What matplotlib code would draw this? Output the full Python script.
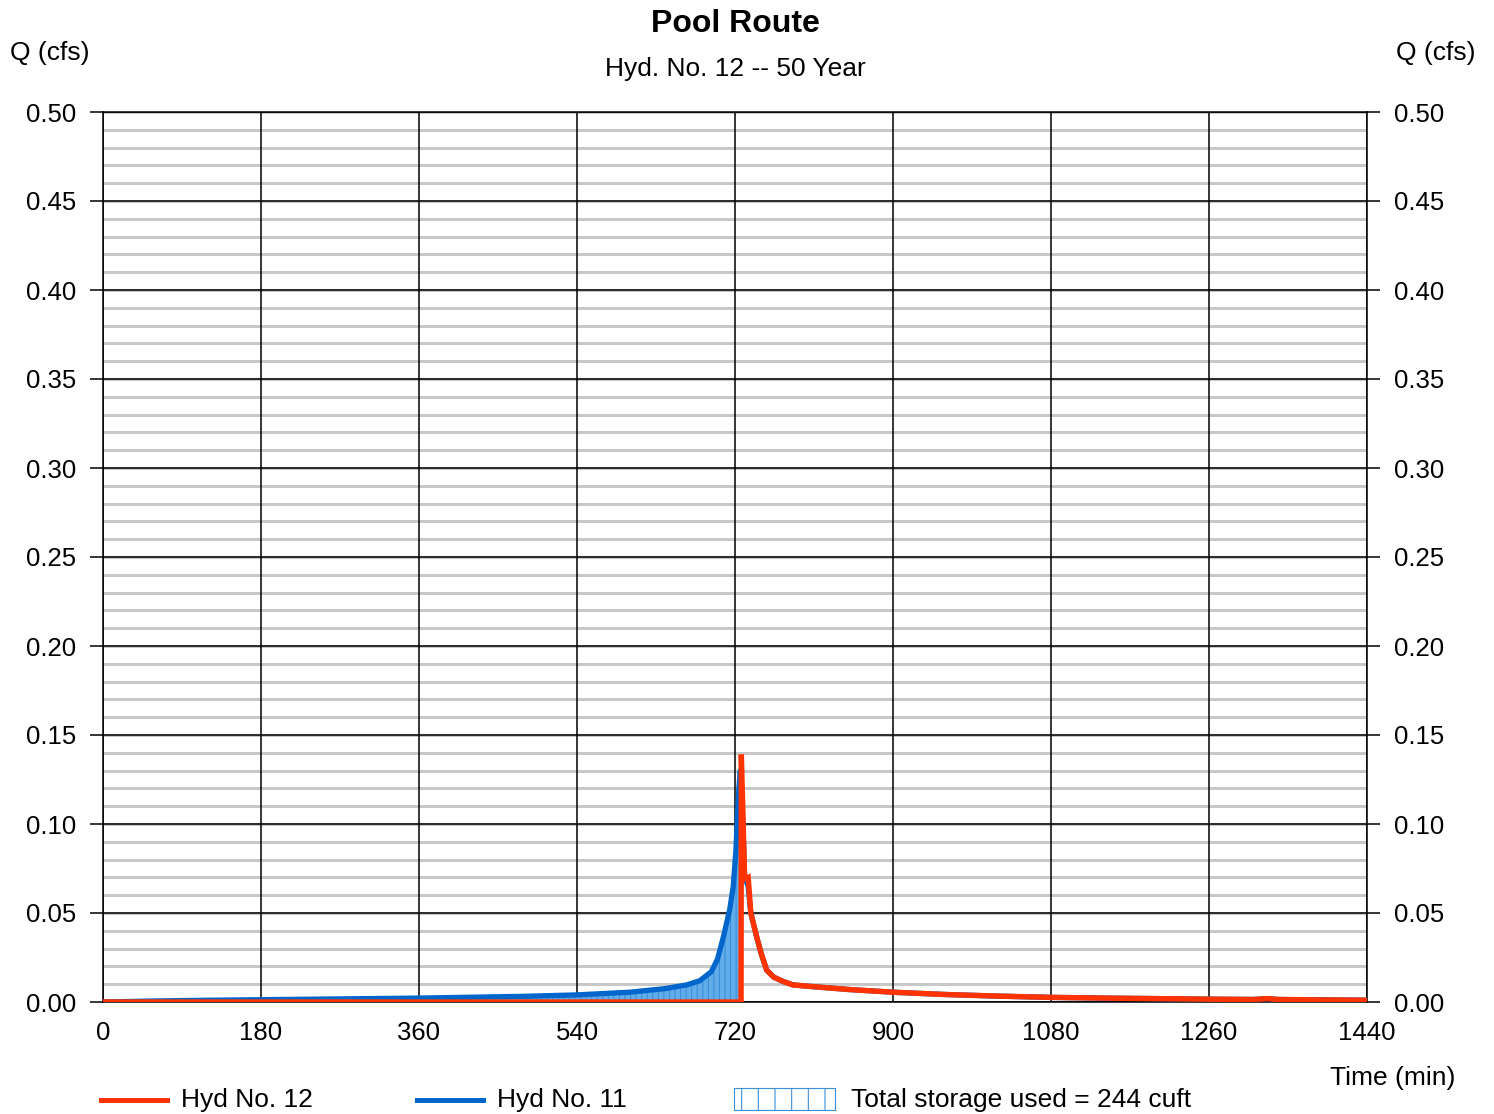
import numpy as np
import matplotlib.pyplot as plt
from matplotlib.lines import Line2D
from matplotlib.patches import Rectangle

plt.rcParams['font.family'] = ['Liberation Sans', 'DejaVu Sans']
plt.rcParams['hatch.linewidth'] = 0.8

# Hyd No. 11 (inflow)
t_in = [0, 60, 120, 180, 240, 300, 360, 420, 480, 540, 600, 640, 665, 680, 693,
        700, 707, 714, 718, 721, 724, 726, 728, 731, 735, 738, 745, 750, 756, 764,
        775, 786, 800, 817, 850, 900, 960, 1020, 1080, 1140, 1200, 1260, 1310,
        1326, 1340, 1380, 1440]
q_in = [0.0, 0.0006, 0.0010, 0.0013, 0.0016, 0.0019, 0.0022, 0.0027, 0.0032,
        0.0040, 0.0055, 0.0075, 0.0096, 0.0120, 0.0170, 0.0240, 0.0370, 0.0520,
        0.0650, 0.0850, 0.1170, 0.1300, 0.1150, 0.0700, 0.0650, 0.0500, 0.0360,
        0.0270, 0.0180, 0.0140, 0.0115, 0.0096, 0.0090, 0.0083, 0.0070, 0.0055,
        0.0042, 0.0033, 0.0026, 0.0022, 0.0019, 0.0016, 0.0014, 0.0019, 0.0014,
        0.0012, 0.0010]

# Hyd No. 12 (outflow)
t_out = [0, 726.9, 727.2, 731, 735, 738, 745, 750, 756, 764, 775, 786, 800, 817,
         850, 900, 960, 1020, 1080, 1140, 1200, 1260, 1310, 1326, 1340, 1380, 1440]
q_out = [0.0, 0.0, 0.1390, 0.0690, 0.0700, 0.0500, 0.0360, 0.0270, 0.0180,
         0.0140, 0.0115, 0.0096, 0.0090, 0.0083, 0.0070, 0.0055, 0.0042, 0.0033,
         0.0026, 0.0022, 0.0019, 0.0016, 0.0014, 0.0019, 0.0014, 0.0012, 0.0010]

storage_end = 727.0
x_ticks = [0, 180, 360, 540, 720, 900, 1080, 1260, 1440]
y_ticks = [0.00, 0.05, 0.10, 0.15, 0.20, 0.25, 0.30, 0.35, 0.40, 0.45, 0.50]
y_minor = np.arange(0, 0.5001, 0.01)

W, H = 1494, 1114
fig = plt.figure(figsize=(W / 100, H / 100), dpi=100)
ax = fig.add_axes([103 / W, 112 / H, 1264 / W, 890 / H])

red = '#ff3300'
blue = '#0066cc'

# grid: light minor lines first, black major lines on top
for y in y_minor:
    ax.axhline(y, color='#c8c8c8', lw=2.2, zorder=0.3)
for y in y_ticks:
    ax.axhline(y, color='black', lw=1.1, zorder=0.6)
for x in x_ticks:
    ax.axvline(x, color='black', lw=1.1, zorder=0.6)

# storage area under inflow before outflow starts
t_in_a = np.array(t_in, dtype=float)
q_in_a = np.array(q_in)
tf = np.append(t_in_a[t_in_a < storage_end], storage_end)
qf = np.append(q_in_a[t_in_a < storage_end], np.interp(storage_end, t_in_a, q_in_a))
ax.fill_between(tf, 0, qf, facecolor='#62acea', edgecolor='#3a8fd9',
                hatch='|||', linewidth=0, zorder=2)

ax.plot(t_in, q_in, color=blue, lw=3.8, zorder=3, solid_joinstyle='round')
ax.plot(t_out, q_out, color=red, lw=3.9, zorder=4, solid_joinstyle='miter')

ax.set_xlim(0, 1440)
ax.set_ylim(0, 0.5)
ax.set_xticks(x_ticks)
ax.set_yticks(y_ticks)

ax.tick_params(axis='y', which='major', length=9.5, width=1.1, labelsize=18.5,
               pad=10, left=True, right=True, labelleft=True, labelright=True,
               direction='out')
ax.tick_params(axis='x', length=0, labelsize=18.5, pad=14)
ax.yaxis.set_major_formatter(plt.FuncFormatter(lambda v, p: f'{v:.2f}'))
for s in ax.spines.values():
    s.set_linewidth(1.1)

fig.text(735 / W, 1 - 24 / H, 'Pool Route', ha='center', va='center',
         fontsize=23, fontweight='bold')
fig.text(735 / W, 1 - 69 / H, 'Hyd. No. 12 -- 50 Year', ha='center',
         va='center', fontsize=19)
fig.text(10 / W, 1 - 53 / H, 'Q (cfs)', ha='left', va='center', fontsize=19)
fig.text(1476 / W, 1 - 53 / H, 'Q (cfs)', ha='right', va='center', fontsize=19)
fig.text(1455 / W, 1 - 1078 / H, 'Time (min)', ha='right', va='center',
         fontsize=19)

# legend drawn along bottom
ly = 1 - 1100 / H
fig.add_artist(Line2D([101 / W, 167 / W], [ly, ly], color=red, lw=3.6,
                      transform=fig.transFigure))
fig.text(181 / W, ly, 'Hyd No. 12', va='center', fontsize=19)
fig.add_artist(Line2D([417 / W, 483 / W], [ly, ly], color=blue, lw=3.6,
                      transform=fig.transFigure))
fig.text(497 / W, ly, 'Hyd No. 11', va='center', fontsize=19)
fig.add_artist(Rectangle((734 / W, 1 - 1110 / H), 101 / W, 22 / H,
                         facecolor='white', edgecolor='#3a8fd9', hatch='|',
                         lw=0.8, transform=fig.transFigure))
fig.text(851 / W, ly, 'Total storage used = 244 cuft', va='center',
         fontsize=19)

fig.savefig('out.png', dpi=100)
